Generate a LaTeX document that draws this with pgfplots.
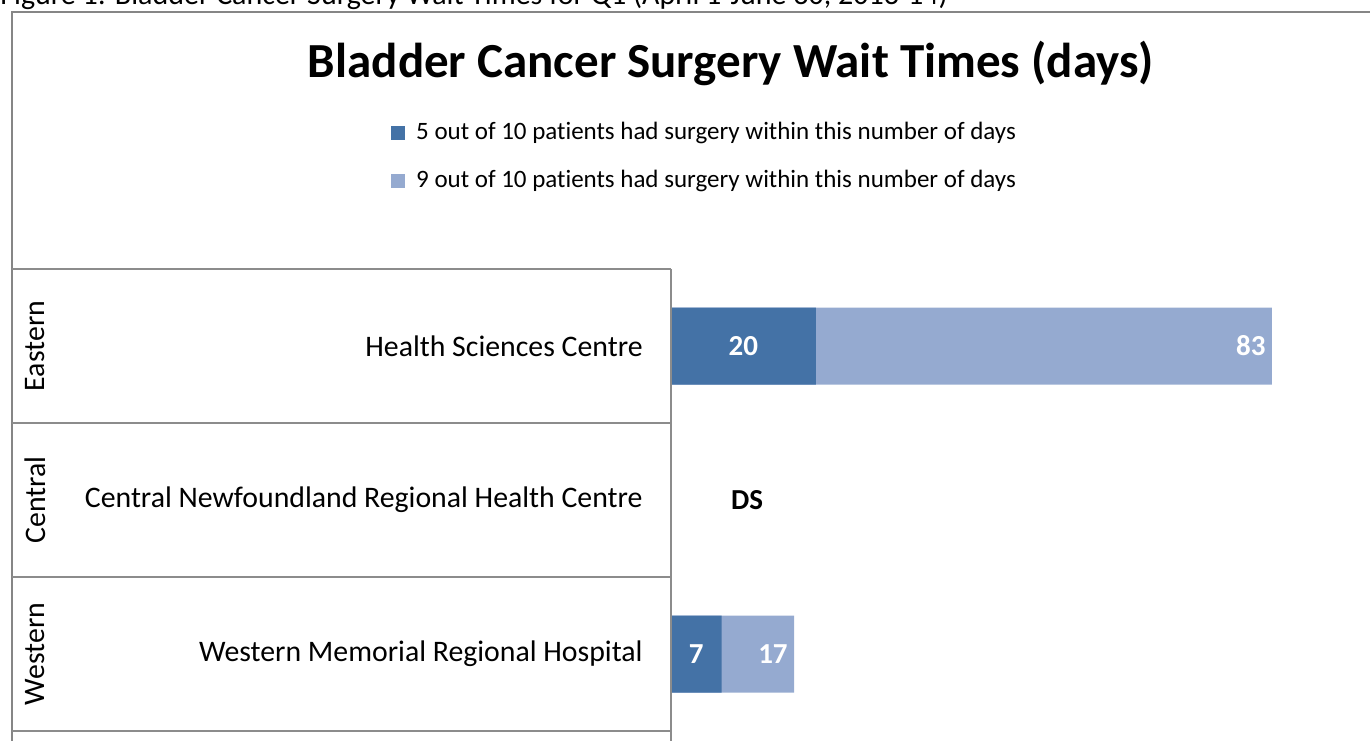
\documentclass[border=0pt]{standalone}
\usepackage{fontspec}
\setmainfont{Carlito}[Ligatures=NoCommon]
\usepackage{pgfplots}
\usepackage{pgfplotstable}
\pgfplotsset{compat=1.18}
\definecolor{darkb}{RGB}{68,114,166}
\definecolor{lightb}{RGB}{149,170,208}
\definecolor{framegray}{RGB}{134,134,134}
\definecolor{gridgray}{RGB}{140,140,140}

\pgfplotstableread{
pos p50 p90
3 20 83
1 7 17
}\waits
\pgfplotstableread{
pos x lab
2 10.5 DS
}\suppressed

\begin{document}
\begin{tikzpicture}
\path[use as bounding box] (0,0) rectangle (685pt,370pt);
\node[anchor=base west, inner sep=0pt, font=\fontsize{15}{18}\selectfont] at (0pt,367.5pt) {Figure 1: Bladder Cancer Surgery Wait Times for Q1 (April 1-June 30, 2013-14)};
\draw[framegray, line width=1.2pt] (6pt,-5pt) -- (6pt,364pt) -- (700pt,364pt);
\node[font=\bfseries\fontsize{24.5}{29}\selectfont, anchor=base, inner sep=0pt] at (365.5pt,331pt) {Bladder Cancer Surgery Wait Times (days)};
\begin{axis}[
  at={(335.5pt,4.5pt)}, anchor=south west,
  scale only axis, width=340.3pt, height=231pt,
  xmin=0, xmax=94, ymin=0.5, ymax=3.5,
  axis line style={draw=none},
  xtick=\empty,
  ytick={1,2,3},
  yticklabels={Western Memorial Regional Hospital, Central Newfoundland Regional Health Centre, Health Sciences Centre},
  major tick length=0pt,
  yticklabel style={font=\fontsize{14.9}{18}\selectfont, inner sep=0pt, xshift=-14pt},
  clip=false,
  legend cell align=left,
  legend style={draw=none, fill=none, inner sep=0pt,
    at={(axis description cs:-0.4114,1.3185)}, anchor=north west,
    row sep=14pt,
    font=\fontsize{12.5}{15}\selectfont,
    nodes={inner sep=0pt},
    /tikz/every odd column/.append style={column sep=5.5pt}},
]
\addlegendimage{legend image code/.code={\fill[darkb] (0pt,-3.25pt) rectangle (6.5pt,3.25pt);}}
\addlegendentry{5 out of 10 patients had surgery within this number of days}
\addlegendimage{legend image code/.code={\fill[lightb] (0pt,-3.25pt) rectangle (6.5pt,3.25pt);}}
\addlegendentry{9 out of 10 patients had surgery within this number of days}

\addplot[xbar, bar width=38.5pt, bar shift=0pt, fill=lightb, draw=none, forget plot,
  nodes near coords, point meta=explicit symbolic,
  every node near coord/.append style={anchor=east, xshift=-3pt, text=white, font=\bfseries\fontsize{14.5}{17}\selectfont, inner sep=0pt}]
  table[x=p90, y=pos, meta=p90] {\waits};
\addplot[xbar, bar width=38.5pt, bar shift=0pt, fill=darkb, draw=none, forget plot]
  table[x=p50, y=pos] {\waits};
\addplot[draw=none, mark=none, forget plot,
  nodes near coords, point meta=explicit symbolic,
  every node near coord/.append style={anchor=center, text=white, font=\bfseries\fontsize{14.5}{17}\selectfont, inner sep=0pt}]
  table[x expr=\thisrow{p50}/2, y=pos, meta=p50] {\waits};
\addplot[draw=none, mark=none, forget plot,
  nodes near coords, point meta=explicit symbolic,
  every node near coord/.append style={anchor=center, text=black, font=\bfseries\fontsize{14.5}{17}\selectfont, inner sep=0pt}]
  table[x=x, y=pos, meta=lab] {\suppressed};
\end{axis}
\draw[gridgray, line width=0.6pt] (6pt,235.5pt) -- (335.5pt,235.5pt);
\draw[gridgray, line width=0.6pt] (6pt,158.5pt) -- (335.5pt,158.5pt);
\draw[gridgray, line width=0.6pt] (6pt,81.5pt) -- (335.5pt,81.5pt);
\draw[gridgray, line width=0.6pt] (6pt,4.5pt) -- (335.5pt,4.5pt);
\draw[gridgray, line width=0.6pt] (335.5pt,235.5pt) -- (335.5pt,-5pt);
\node[rotate=90, font=\fontsize{14.9}{18}\selectfont] at (17.5pt,197pt) {Eastern};
\node[rotate=90, font=\fontsize{14.9}{18}\selectfont] at (17.5pt,120pt) {Central};
\node[rotate=90, font=\fontsize{14.9}{18}\selectfont] at (17.5pt,43pt) {Western};
\end{tikzpicture}
\end{document}
